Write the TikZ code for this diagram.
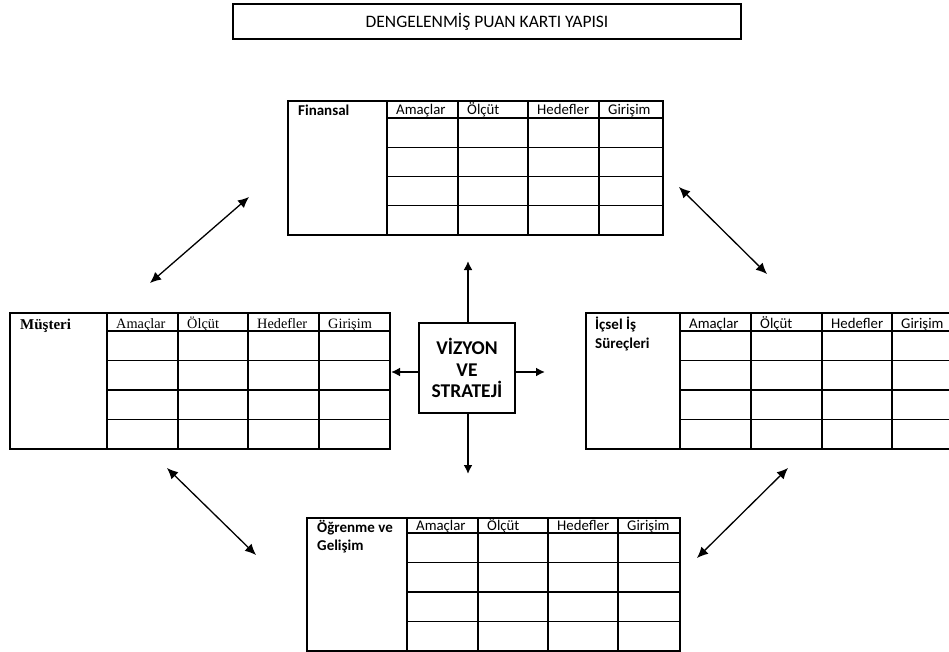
\documentclass[tikz,border=0pt]{standalone}
\usepackage{fontspec}
\setmainfont{Carlito}
\newfontfamily\timesfont{Liberation Serif}
\usetikzlibrary{arrows.meta}

% Scorecard table: #1 left, #2 top, #3 right, #4 bottom, #5 header bottom,
% #6-#9 left edges of the four data columns
\newcommand\scorecard[9]{%
  \draw[frame] (#1,#2) rectangle (#3,#4);
  \foreach \cx in {#6,#7,#8,#9} \draw[gridline] (\cx,#2) -- (\cx,#4);
  \pgfmathsetmacro\rowh{(#4-#5)/4}
  \foreach \k in {0,1,2} \draw[gridline] (#6,{#5+\k*\rowh}) -- (#3,{#5+\k*\rowh});
  \draw[gridline] (#6,{#4-\rowh}) -- (#3,{#4-\rowh});
  \foreach \cx/\t in {#6/Amaçlar,#7/Ölçüt,#8/Hedefler,#9/Girişim}
    \node[hdr] (h-\t-#1) at ({\cx+9},{#5-3}) {\t};
}

\begin{document}
\begin{tikzpicture}[x=1pt,y=-1pt,
  frame/.style={draw=black, line width=1.4pt},
  gridline/.style={draw=black, line width=1.2pt},
  hdr/.style={anchor=base west, inner sep=0pt, font=\fontsize{14.8}{14.8}\selectfont},
  lbl/.style={anchor=base west, inner sep=0pt, font=\bfseries\fontsize{15}{15}\selectfont},
  link/.style={line width=1.3pt, {Latex[length=11pt,width=10pt]}-{Latex[length=11pt,width=10pt]}},
  outarrow/.style={line width=1.8pt, -{Latex[length=9pt,width=9pt]}},
]
\useasboundingbox (0,0) rectangle (949,652);

% title
\node[draw, line width=1.4pt, minimum width=508pt, minimum height=35pt,
      font=\fontsize{17.5}{17.5}\selectfont] (title) at (487,21.5) {DENGELENMİŞ PUAN KARTI YAPISI};

% Finansal
\scorecard{288}{101}{663}{235}{118}{387}{458}{528}{599}
\node[lbl] (fin) at (298,116) {Finansal};

% Müşteri
\begin{scope}[hdr/.append style={font=\timesfont\fontsize{14.3}{14.3}\selectfont}]
\scorecard{10}{313}{390}{449}{331}{107}{178}{248}{319}
\end{scope}
\node[lbl, font=\timesfont\bfseries\fontsize{15}{15}\selectfont] (mus) at (20,329) {Müşteri};

% İçsel İş Süreçleri
\scorecard{586}{313}{963}{449}{331}{680}{751}{822}{892}
\node[lbl] (ic1) at (595,329) {İçsel İş};
\node[lbl] (ic2) at (595,348) {Süreçleri};

% Öğrenme ve Gelişim
\scorecard{307}{518}{680}{651}{533}{407}{478}{548}{618}
\node[lbl] (og1) at (317,532) {Öğrenme ve};
\node[lbl] (og2) at (317,550) {Gelişim};

% centre box
\node[draw, line width=1.4pt, minimum width=96pt, minimum height=90pt, inner sep=0pt,
      align=center, font=\bfseries\fontsize{19.5}{21.5}\selectfont] (vs) at (467,368) {VİZYON\\VE\\STRATEJİ};

\coordinate (up) at (468,261);
\coordinate (dn) at (468,474);
\coordinate (lt) at (391,372);
\coordinate (rt) at (545,372);
\draw[outarrow] (vs.north -| up) -- (up);
\draw[outarrow] (vs.south -| dn) -- (dn);
\draw[outarrow] (vs.west |- lt) -- (lt);
\draw[outarrow] (vs.east |- rt) -- (rt);

% links between perspectives
\coordinate (a1) at (150,283);
\coordinate (a2) at (249,197);
\coordinate (b1) at (679,187);
\coordinate (b2) at (767,274);
\coordinate (c1) at (167,468);
\coordinate (c2) at (256,555);
\coordinate (d1) at (788,468);
\coordinate (d2) at (697,558);
\draw[link] (a1) -- (a2);
\draw[link] (b1) -- (b2);
\draw[link] (c1) -- (c2);
\draw[link] (d1) -- (d2);
\end{tikzpicture}
\end{document}
